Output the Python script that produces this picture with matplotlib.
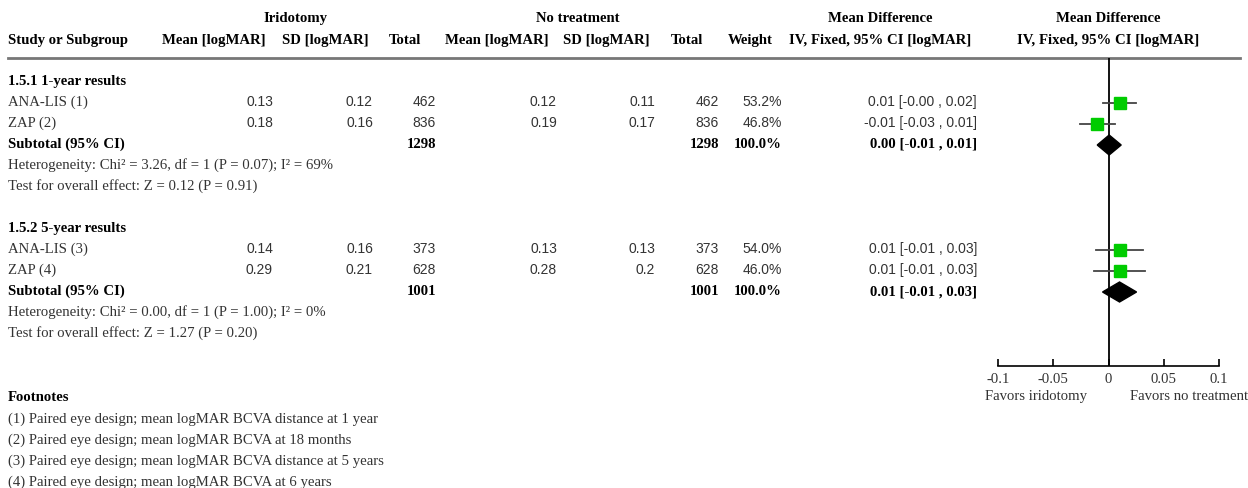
import matplotlib
matplotlib.use("Agg")
import matplotlib.pyplot as plt
from matplotlib.patches import Polygon

# Study level data (iridotomy vs no treatment, logMAR BCVA)
studies = ["ANA-LIS (1)", "ZAP (2)", "ANA-LIS (3)", "ZAP (4)"]
irid_mean = [0.13, 0.18, 0.14, 0.29]
irid_sd = [0.12, 0.16, 0.16, 0.21]
irid_n = [462, 836, 373, 628]
ctrl_mean = [0.12, 0.19, 0.13, 0.28]
ctrl_sd = [0.11, 0.17, 0.13, 0.2]
ctrl_n = [462, 836, 373, 628]
weights = [53.2, 46.8, 54.0, 46.0]
md = [0.01, -0.01, 0.01, 0.01]
ci_lo = [-0.0049, -0.0258, -0.0109, -0.0127]
ci_hi = [0.0249, 0.0058, 0.0309, 0.0327]

# Subgroups
groups = ["1.5.1 1-year results", "1.5.2 5-year results"]
group_members = [[0, 1], [2, 3]]
sub_total = [1298, 1001]
sub_md = [0.0006, 0.01]
sub_lo = [-0.0102, -0.0054]
sub_hi = [0.0115, 0.0254]
heterogeneity = ["Heterogeneity: Chi² = 3.26, df = 1 (P = 0.07); I² = 69%",
                 "Heterogeneity: Chi² = 0.00, df = 1 (P = 1.00); I² = 0%"]
overall = ["Test for overall effect: Z = 0.12 (P = 0.91)",
           "Test for overall effect: Z = 1.27 (P = 0.20)"]

footnotes = ["(1) Paired eye design; mean logMAR BCVA distance at 1 year",
             "(2) Paired eye design; mean logMAR BCVA at 18 months",
             "(3) Paired eye design; mean logMAR BCVA distance at 5 years",
             "(4) Paired eye design; mean logMAR BCVA at 6 years"]

xticks = [-0.1, -0.05, 0, 0.05, 0.1]
xtick_labels = ["-0.1", "-0.05", "0", "0.05", "0.1"]

SERIF = "Liberation Serif"
SANS = "Liberation Sans"
FS_SERIF = 10.6
FS_SANS = 10
GREY = "#333333"

W, H = 1248, 489
fig = plt.figure(figsize=(W / 100, H / 100), dpi=100)
ax = fig.add_axes([0, 0, 1, 1])
ax.set_xlim(0, W)
ax.set_ylim(H, 0)
ax.axis("off")


def txt(x, y, s, ha="left", bold=False, sans=False, color=None):
    # y is the visual middle of the capitals; place text on its baseline
    ax.text(x, y + 5, s, ha=ha, va="baseline",
            fontsize=FS_SANS if sans else FS_SERIF,
            family=SANS if sans else SERIF,
            fontweight="bold" if bold else "normal",
            color=color or ("black" if bold else GREY))


def fmt_ci(m, lo, hi):
    return f"{m:.2f} [{lo:.2f} , {hi:.2f}]"


# header
txt(295, 17, "Iridotomy", ha="center", bold=True)
txt(578, 17, "No treatment", ha="center", bold=True)
txt(880, 17, "Mean Difference", ha="center", bold=True)
txt(1108, 17, "Mean Difference", ha="center", bold=True)
txt(8, 39, "Study or Subgroup", bold=True)
for xc, lab in [(214, "Mean [logMAR]"), (325, "SD [logMAR]"), (405, "Total"),
                (497, "Mean [logMAR]"), (606, "SD [logMAR]"), (687, "Total"),
                (750, "Weight"), (880, "IV, Fixed, 95% CI [logMAR]"),
                (1108, "IV, Fixed, 95% CI [logMAR]")]:
    txt(xc, 39, lab, ha="center", bold=True)
ax.plot([8, 1240], [59, 59], color="#777777", lw=2)

# column right edges
cols = [273, 373, 436, 557, 655, 719, 782, 977]

# forest axes, y in the same pixel units as the table
fa = fig.add_axes([998 / W, 1 - 367 / H, 221 / W, (367 - 59) / H])
fa.set_xlim(-0.1, 0.1)
fa.set_ylim(367, 59)
fa.patch.set_alpha(0)
for sp in ["top", "right", "left"]:
    fa.spines[sp].set_visible(False)
fa.spines["bottom"].set_linewidth(1.2)
fa.set_yticks([])
fa.set_xticks(xticks)
fa.set_xticklabels(xtick_labels, family=SERIF, fontsize=FS_SERIF, color=GREY)
fa.tick_params(axis="x", direction="in", length=5, width=1.2, pad=4)
fa.axvline(0, color="black", lw=1.3, zorder=1)

y0, step = 80, 21
for g, (name, members) in enumerate(zip(groups, group_members)):
    yg = y0 + g * 7 * step
    txt(8, yg, name, bold=True)
    for k, i in enumerate(members):
        y = yg + (k + 1) * step
        txt(8, y, studies[i])
        vals = [f"{irid_mean[i]:g}", f"{irid_sd[i]:g}", f"{irid_n[i]}",
                f"{ctrl_mean[i]:g}", f"{ctrl_sd[i]:g}", f"{ctrl_n[i]}",
                f"{weights[i]:.1f}%", fmt_ci(md[i], ci_lo[i], ci_hi[i])]
        for xr, v in zip(cols, vals):
            txt(xr, y, v, ha="right", sans=True)
        ym = y + 3
        fa.plot([ci_lo[i], ci_hi[i]], [ym, ym], color="#444444", lw=1.3, zorder=2)
        side = 12 * (weights[i] / 53.2) ** 0.5
        fa.plot(md[i], ym, marker="s", ms=side * 0.72, color="#00cc00",
                mec="#00cc00", zorder=3)
    ys = yg + 3 * step
    txt(8, ys, "Subtotal (95% CI)", bold=True)
    txt(cols[2], ys, f"{sub_total[g]}", ha="right", bold=True)
    txt(cols[5], ys, f"{sub_total[g]}", ha="right", bold=True)
    txt(cols[6], ys, "100.0%", ha="right", bold=True)
    txt(cols[7], ys, fmt_ci(sub_md[g], sub_lo[g], sub_hi[g]), ha="right", bold=True)
    yd = ys + 3
    fa.add_patch(Polygon([(sub_lo[g], yd), (sub_md[g], yd - 10),
                          (sub_hi[g], yd), (sub_md[g], yd + 10)],
                         closed=True, color="black", zorder=3))
    txt(8, yg + 4 * step, heterogeneity[g])
    txt(8, yg + 5 * step, overall[g])

txt(1036, 395, "Favors iridotomy", ha="center")
txt(1189, 395, "Favors no treatment", ha="center")

txt(8, 396, "Footnotes", bold=True)
for k, note in enumerate(footnotes):
    txt(8, 418 + k * 21, note)

fig.savefig("out.png", dpi=100)
